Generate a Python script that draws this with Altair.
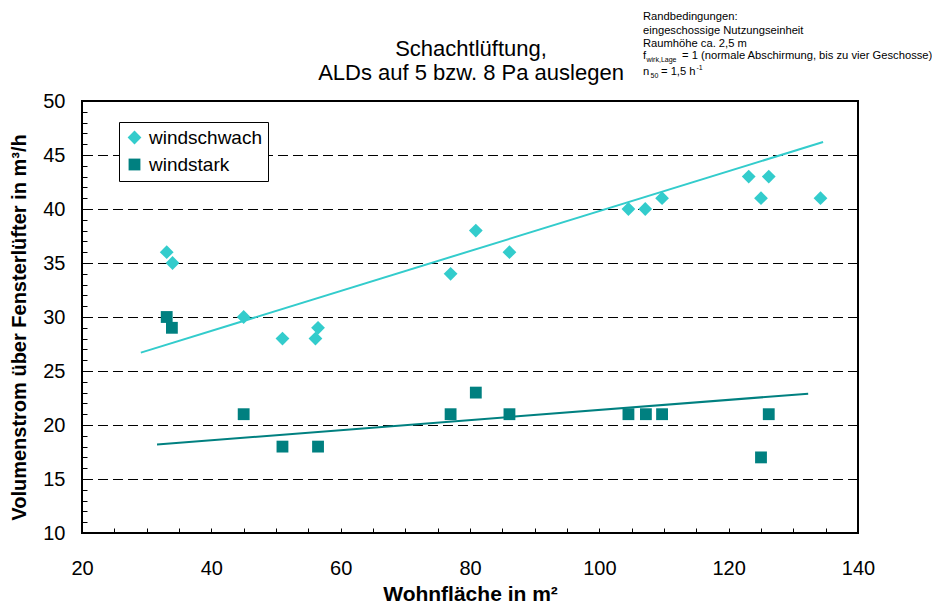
import altair as alt
import pandas as pd

# ---------------- data ----------------
series_names = ["windschwach", "windstark"]
series_colors = ["#33CCCC", "#008080"]
series_shapes = ["diamond", "square"]

ws_x = [33.1, 34.0, 45.0, 51.0, 56.1, 56.5, 77.0, 80.9, 86.1, 104.5, 107.1, 109.7, 123.1, 125.0, 126.2, 134.2]
ws_y = [36, 35, 30, 28, 28, 29, 34, 38, 36, 40, 40, 41, 43, 41, 43, 41]

wst_x = [33.1, 33.9, 45.0, 51.0, 56.5, 77.0, 80.9, 86.1, 104.5, 107.2, 109.7, 125.0, 126.2]
wst_y = [30, 29, 21, 18, 18, 21, 23, 21, 21, 21, 21, 17, 21]

trend_ws_x = [29.1, 134.6]
trend_ws_y = [26.7, 46.2]
trend_wst_x = [31.6, 132.3]
trend_wst_y = [18.2, 22.9]

grid_values = [15, 20, 25, 30, 35, 40, 45]
x_tick_values = list(range(20, 141, 5))
y_tick_values = list(range(10, 51, 1))

title_lines = ["Schachtlüftung,", "ALDs auf 5 bzw. 8 Pa auslegen"]
x_title = "Wohnfläche in m²"
y_title = "Volumenstrom über Fensterlüfter in m³/h"

# ---------------- tables ----------------
points = pd.DataFrame({
    "x": ws_x + wst_x,
    "y": ws_y + wst_y,
    "series": [series_names[0]] * len(ws_x) + [series_names[1]] * len(wst_x),
})
trend = pd.DataFrame({
    "x": trend_ws_x + trend_wst_x,
    "y": trend_ws_y + trend_wst_y,
    "series": [series_names[0]] * 2 + [series_names[1]] * 2,
})
grid = pd.DataFrame({"y": grid_values})

# ---------------- layout ----------------
W, H = 776, 432
FONT = "Liberation Sans"

xscale = alt.Scale(domain=[20, 140], nice=False, zero=False)
yscale = alt.Scale(domain=[10, 50], nice=False, zero=False)
cscale = alt.Scale(domain=series_names, range=series_colors)
sscale = alt.Scale(domain=series_names, range=series_shapes)
zscale = alt.Scale(domain=series_names, range=[190, 140])

xaxis = alt.Axis(
    values=x_tick_values,
    labelExpr="datum.value % 20 === 0 ? datum.label : ''",
    offset=-5, domain=False, grid=False,
    tickSize=5, tickColor="black", tickWidth=1,
    labelFont=FONT, labelFontSize=20, labelColor="black", labelPadding=25,
    labelFlush=False, labelOverlap=False,
    title=x_title, titleFont=FONT, titleFontSize=21, titleFontWeight="bold",
    titleColor="black", titleX=388, titleY=72, titleBaseline="alphabetic",
    titleAlign="center", titleAngle=0,
)
yaxis = alt.Axis(
    values=y_tick_values,
    labelExpr="datum.value % 5 === 0 ? datum.label : ''",
    offset=-5, domain=False, grid=False,
    tickSize=5, tickColor="black", tickWidth=1,
    labelFont=FONT, labelFontSize=20, labelColor="black", labelPadding=17,
    labelOverlap=False,
    title=y_title, titleFont=FONT, titleFontSize=20, titleFontWeight="bold",
    titleColor="black", titleX=-62, titleY=226, titleBaseline="alphabetic",
    titleAlign="center", titleAngle=270,
)

legend = alt.Legend(
    orient="none", legendX=37, legendY=21,
    strokeColor="black", fillColor="white", padding=6,
    labelFont=FONT, labelFontSize=19, labelColor="black",
    symbolSize=150, rowPadding=7, labelOffset=5,
    symbolStrokeWidth=0,
)

grid_layer = alt.Chart(grid).mark_rule(
    color="black", strokeWidth=1, strokeDash=[10, 5], yOffset=0.5
).encode(y=alt.Y("y:Q", scale=yscale, axis=yaxis))

trend_layer = alt.Chart(trend).mark_line(strokeWidth=2).encode(
    x=alt.X("x:Q", scale=xscale, axis=xaxis),
    y=alt.Y("y:Q", scale=yscale, axis=yaxis),
    color=alt.Color("series:N", scale=cscale, legend=legend, title=None),
    detail="series:N",
)

point_layer = alt.Chart(points).mark_point(filled=True, opacity=1).encode(
    x=alt.X("x:Q", scale=xscale, axis=xaxis),
    y=alt.Y("y:Q", scale=yscale, axis=yaxis),
    color=alt.Color("series:N", scale=cscale, legend=legend, title=None),
    shape=alt.Shape("series:N", scale=sscale, legend=legend, title=None),
    size=alt.Size("series:N", scale=zscale, legend=None),
)


def txt(text, x, y, size, align="left", baseline="alphabetic"):
    return alt.Chart(alt.Data(values=[{}])).mark_text(
        text=text, font=FONT, fontSize=size, color="black",
        align=align, baseline=baseline,
    ).encode(x=alt.value(x), y=alt.value(y))


title_layers = [
    txt(title_lines[0], 389, -45, 22, align="center"),
    txt(title_lines[1], 389, -21, 22, align="center"),
]

NS = 11.2
SUB = 7
note_layers = [
    txt("Randbedingungen:", 561, -81, NS),
    txt("eingeschossige Nutzungseinheit", 561, -67.5, NS),
    txt("Raumhöhe ca. 2,5 m", 561, -54, NS),
    txt("f", 561, -42, NS),
    txt("wirk,Lage", 564.5, -39, SUB),
    txt("= 1 (normale Abschirmung, bis zu vier Geschosse)", 600, -42, NS),
    txt("n", 561, -26, NS),
    txt("50", 568.5, -23.5, SUB),
    txt("= 1,5 h", 579, -26, NS),
    txt("-1", 614.5, -31, SUB),
]

chart = alt.layer(
    grid_layer, trend_layer, point_layer, *title_layers, *note_layers
).properties(
    width=W, height=H,
    autosize="none",
    padding={"left": 74, "top": 93, "right": 74, "bottom": 73},
).configure_view(
    stroke="black", strokeWidth=2
)

chart.save("out.html", embed_options={"renderer": "svg", "actions": False})
